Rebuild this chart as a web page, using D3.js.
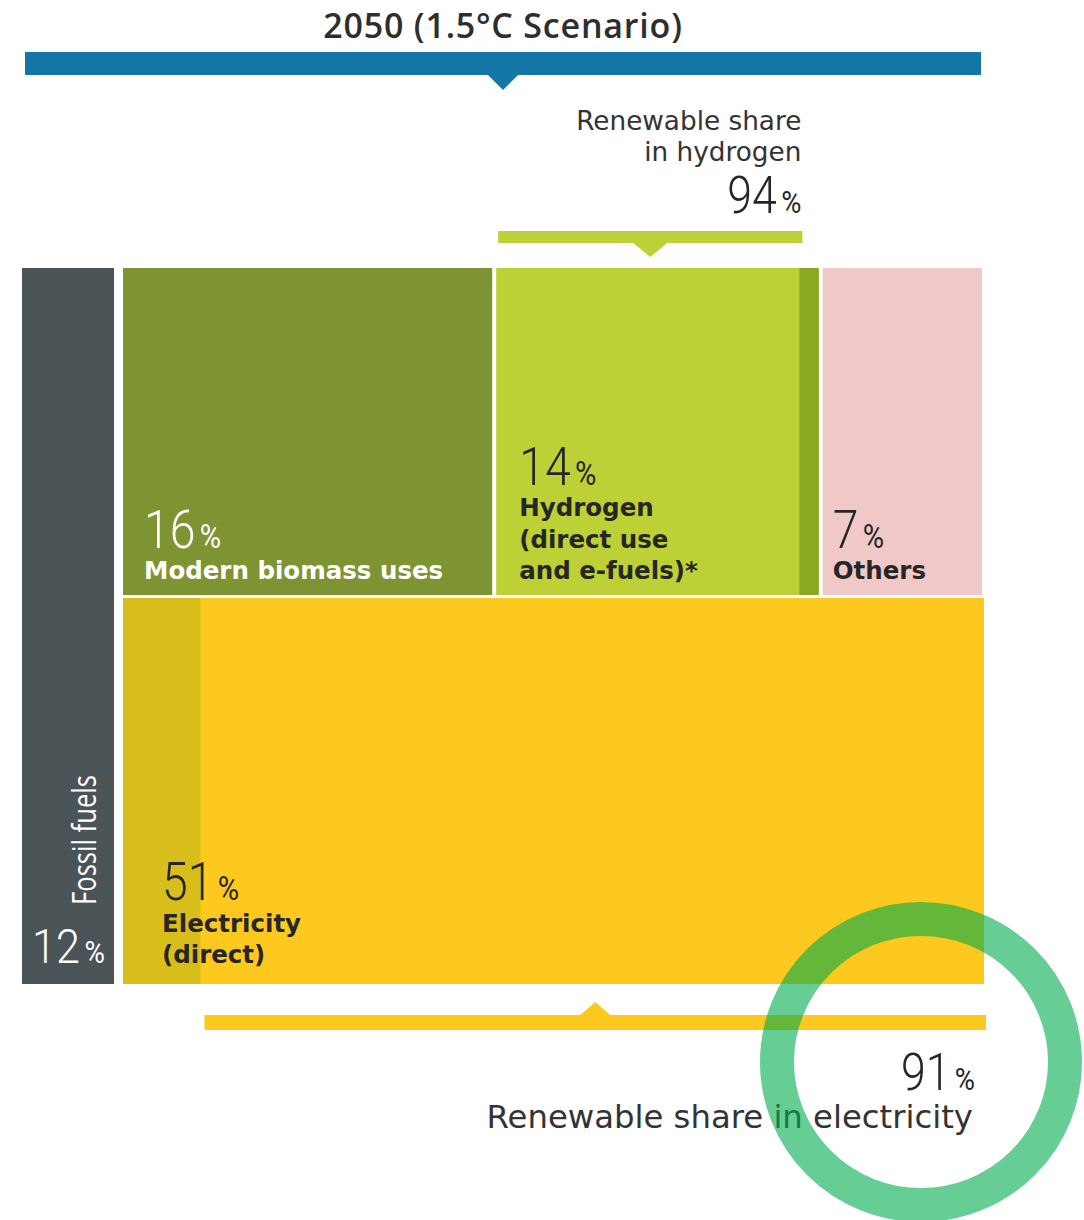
<!DOCTYPE html>
<html>
<head>
<meta charset="utf-8">
<script src="https://cdn.jsdelivr.net/npm/d3@7"></script>
<style>
  html, body { margin: 0; padding: 0; background: #ffffff; }
  svg { display: block; }
</style>
</head>
<body>
<svg id="chart" width="1084" height="1220"></svg>
<script>
// Final energy consumption mix, 2050 (1.5°C Scenario)
const title = "2050 (1.5°C Scenario)";
const fossilLabel = "Fossil fuels";
const fossilShare = 12;
const topRowCategories = ["Modern biomass uses", "Hydrogen (direct use and e-fuels)*", "Others"];
const topRowShares = [16, 14, 7];
const topRowLines = [["Modern biomass uses"], ["Hydrogen", "(direct use", "and e-fuels)*"], ["Others"]];
const electricityLines = ["Electricity", "(direct)"];
const electricityShare = 51;
const renewableShareHydrogen = 94;
const renewableShareElectricity = 91;
const hydrogenNoteLines = ["Renewable share", "in hydrogen"];
const electricityNote = "Renewable share in electricity";

const svg = d3.select("#chart");

const C = {
  blue: "#1476a6",
  fossil: "#4a5356",
  biomass: "#7e9331",
  hydrogen: "#bdd035",
  hydrogenDark: "#8ba823",
  others: "#f0c8c7",
  elec: "#fdc91e",
  elecDark: "#d8be1a",
  ink: "#262626",
  ring: "rgb(0,172,77)"
};

const numFont = "Roboto, 'Noto Sans', sans-serif";
const labelFont = "'DejaVu Sans', Verdana, sans-serif";
const noteFont = "'Open Sans', 'Noto Sans', sans-serif";

// Frame of the mosaic
const frame = { left: 22, fossilRight: 114, tilesLeft: 123, right: 984, top: 268, split: 596, bottom: 984 };
const gap = 4;

// Percent label: large condensed number with a smaller % sign
function pct(x, y, value, opt) {
  const o = Object.assign({ size: 54, pctSize: 34, anchor: "start", fill: C.ink, sx: 0.86 }, opt);
  const g = svg.append("g").attr("transform", `translate(${x},${y}) scale(${o.sx},1)`);
  const t = g.append("text")
    .attr("text-anchor", o.anchor)
    .attr("font-family", numFont)
    .attr("fill", o.fill);
  t.append("tspan").attr("font-size", o.size).attr("font-weight", 300).text(value);
  t.append("tspan").attr("font-size", o.pctSize).attr("font-weight", 400).attr("dx", 5).text("%");
  return g;
}

// Title and scenario bar
svg.append("text")
  .attr("x", 503).attr("y", 38)
  .attr("text-anchor", "middle")
  .attr("font-family", noteFont)
  .attr("font-weight", 600)
  .attr("font-size", 34)
  .attr("letter-spacing", 0.8)
  .attr("fill", "#2e2e2e")
  .text(title);

const barX0 = 25, barX1 = 981, barMid = (barX0 + barX1) / 2;
svg.append("path")
  .attr("d", `M${barX0},52 H${barX1} V75 H${barMid + 15} L${barMid},90 L${barMid - 15},75 H${barX0} Z`)
  .attr("fill", C.blue);

// Fossil fuels column
svg.append("rect")
  .attr("x", frame.left).attr("y", frame.top)
  .attr("width", frame.fossilRight - frame.left)
  .attr("height", frame.bottom - frame.top)
  .attr("fill", C.fossil);

svg.append("text")
  .attr("transform", `translate(96,905) rotate(-90)`)
  .attr("font-family", noteFont)
  .attr("font-size", 33)
  .attr("textLength", 130)
  .attr("lengthAdjust", "spacingAndGlyphs")
  .attr("fill", "#ffffff")
  .text(fossilLabel);

pct(32, 963, fossilShare, { fill: "#ffffff", size: 48, pctSize: 31, sx: 0.9 });

// Top row: widths proportional to each share
const cum = d3.cumsum(topRowShares);
const xTop = d3.scaleLinear()
  .domain([0, d3.sum(topRowShares)])
  .range([frame.tilesLeft, frame.right + gap - 2]);

const tiles = topRowShares.map((v, i) => {
  const c0 = i === 0 ? 0 : cum[i - 1];
  return { name: topRowCategories[i], value: v, x0: xTop(c0), x1: xTop(cum[i]) - gap, lines: topRowLines[i] };
});

const tileFill = [C.biomass, C.hydrogen, C.others];
svg.selectAll("rect.top")
  .data(tiles)
  .join("rect")
  .attr("class", "top")
  .attr("x", d => d.x0)
  .attr("y", frame.top)
  .attr("width", d => d.x1 - d.x0)
  .attr("height", frame.split - 1 - frame.top)
  .attr("fill", (d, i) => tileFill[i]);

// Non-renewable part of hydrogen
const hyd = tiles[1];
const xHyd = d3.scaleLinear().domain([0, 100]).range([hyd.x0, hyd.x1]);
svg.append("rect")
  .attr("x", xHyd(renewableShareHydrogen))
  .attr("y", frame.top)
  .attr("width", hyd.x1 - xHyd(renewableShareHydrogen))
  .attr("height", frame.split - 1 - frame.top)
  .attr("fill", C.hydrogenDark);

// Electricity tile
const xEl = d3.scaleLinear().domain([0, 100]).range([frame.tilesLeft, frame.right]);
svg.append("rect")
  .attr("x", xEl(0)).attr("y", frame.split + 2)
  .attr("width", xEl(100) - xEl(0))
  .attr("height", frame.bottom - frame.split - 2)
  .attr("fill", C.elec);
svg.append("rect")
  .attr("x", xEl(0)).attr("y", frame.split + 2)
  .attr("width", xEl(100 - renewableShareElectricity) - xEl(0))
  .attr("height", frame.bottom - frame.split - 2)
  .attr("fill", C.elecDark);

// Tile labels
const labelOffset = [21, 23, 10];
const labelFill = ["#ffffff", C.ink, C.ink];
function multiline(x, yLast, lines, fill) {
  const t = svg.append("text")
    .attr("font-family", labelFont)
    .attr("font-weight", 700)
    .attr("font-size", 24.5)
    .attr("fill", fill);
  const n = lines.length;
  lines.forEach((line, j) => {
    t.append("tspan").attr("x", x).attr("y", yLast - (n - 1 - j) * 31.5).text(line);
  });
}
tiles.forEach((d, i) => {
  const x = d.x0 + labelOffset[i];
  const n = d.lines.length;
  pct(x, 579 - n * 31.5, d.value, { fill: labelFill[i] });
  multiline(x, 579, d.lines, labelFill[i]);
});

pct(162, 900, electricityShare, {});
multiline(162, 963, electricityLines, C.ink);

// Renewable share of hydrogen: bracket above the tile
const hBar0 = hyd.x0 + 2, hBar1 = xHyd(renewableShareHydrogen) + 3, hMid = (hBar0 + hBar1) / 2;
svg.append("path")
  .attr("d", `M${hBar0},231 H${hBar1} V243 H${hMid + 17} L${hMid},257 L${hMid - 17},243 H${hBar0} Z`)
  .attr("fill", C.hydrogen);

const hNote = svg.append("text")
  .attr("text-anchor", "end")
  .attr("font-family", labelFont)
  .attr("font-size", 26.3)
  .attr("fill", "#333333");
hydrogenNoteLines.forEach((line, j) => {
  hNote.append("tspan").attr("x", hBar1 - 1).attr("y", 130 + j * 31).text(line);
});
pct(hBar1 - 1, 213, renewableShareHydrogen, { anchor: "end", size: 52, pctSize: 32 });

// Renewable share of electricity: bracket below the tile
const eBar0 = xEl(100 - renewableShareElectricity) + 4, eBar1 = frame.right + 2, eMid = (eBar0 + eBar1) / 2;
svg.append("path")
  .attr("d", `M${eBar0},1030 H${eBar1} V1015 H${eMid + 15} L${eMid},1002 L${eMid - 15},1015 H${eBar0} Z`)
  .attr("fill", C.elec);

pct(975, 1090, renewableShareElectricity, { anchor: "end", size: 52, pctSize: 32 });
svg.append("text")
  .attr("x", 973).attr("y", 1128)
  .attr("text-anchor", "end")
  .attr("font-family", labelFont)
  .attr("font-size", 32.3)
  .attr("fill", "#333333")
  .text(electricityNote);

// Highlight ring around the electricity figure
svg.append("ellipse")
  .attr("cx", 921).attr("cy", 1062)
  .attr("rx", 144).attr("ry", 143)
  .attr("fill", "none")
  .attr("stroke", C.ring)
  .attr("stroke-opacity", 0.6)
  .attr("stroke-width", 34);
</script>
</body>
</html>
